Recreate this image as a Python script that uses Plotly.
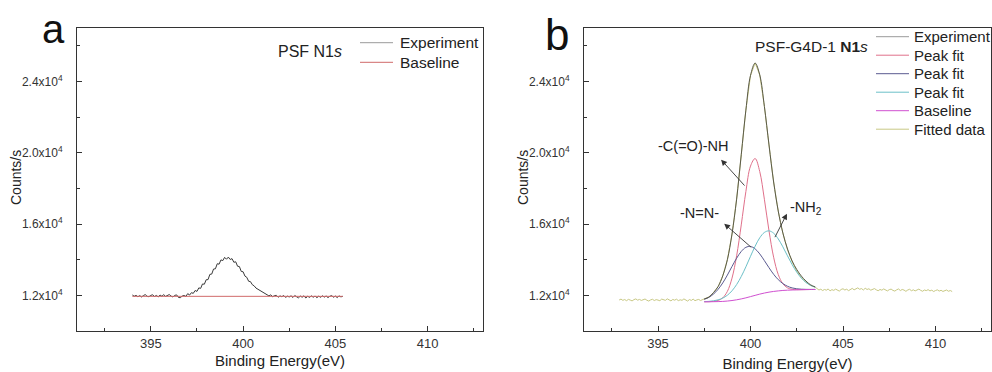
import numpy as np
import plotly.graph_objects as go

# ---------------- data ----------------
# Panel a : PSF N1s  (energy grid 394.0 .. 405.4 eV, step 0.1)
a_start, a_step = 394.0, 0.1
a_experiment = [
    12020, 11950, 12000, 11920, 11985, 11910, 11990, 12040, 11945, 11925,
    12000, 12030, 11935, 11995, 11915, 12015, 11950, 12040, 11940, 12005,
    12045, 11955, 11910, 12000, 12025, 11880, 11870, 11960, 11995, 11940,
    12098, 12017, 12150, 12111, 12273, 12222, 12418, 12392, 12639, 12624,
    12876, 12883, 13176, 13194, 13477, 13490, 13774, 13749, 13990, 13949,
    14132, 14026, 14146, 14012, 14059, 13855, 13884, 13634, 13615, 13342,
    13324, 13081, 13013, 12791, 12769, 12599, 12532, 12408, 12347, 12238,
    12201, 12125, 12077, 12018,
    11970, 12030, 11920, 11985, 12000, 11895, 11970, 11925, 11990, 11885,
    11955, 11910, 11975, 11880, 11990, 11920, 11860, 11960, 11895, 11975,
    11850, 11950, 11885, 11970, 11895, 11960, 11870, 11955, 11890, 11975,
    11900, 11965, 11875, 11950, 11985, 11895, 11960, 11875, 11970, 11915,
    11945,
]
a_baseline_x = [394.0, 405.4]
a_baseline_y = [11945, 11945]

# Panel b : PSF-G4D-1 N1s
b_left_start = 392.9       # noisy data left of the peak, step 0.1
b_left = [
    11740, 11790, 11720, 11765, 11700, 11775, 11735, 11690, 11760, 11800,
    11730, 11770, 11715, 11750, 11795, 11725, 11680, 11745, 11780, 11710,
    11760, 11735, 11700, 11790, 11745, 11720, 11805, 11740, 11690, 11770,
    11730, 11785, 11705, 11750, 11720, 11800, 11740, 11680, 11765, 11715,
    11790, 11700, 11745, 11770, 11710, 11760,
]
b_right_start = 403.6      # noisy data right of the peak, step 0.1
b_right = [
    12380, 12300, 12345, 12270, 12330, 12290, 12360, 12250, 12320, 12280,
    12350, 12295, 12240, 12330, 12370, 12300, 12345, 12265, 12320, 12390,
    12310, 12360, 12420, 12340, 12380, 12300, 12400, 12330, 12370, 12290,
    12345, 12380, 12310, 12260, 12330, 12290, 12360, 12305, 12250, 12320,
    12350, 12280, 12240, 12310, 12360, 12270, 12330, 12295, 12225, 12300,
    12340, 12260, 12310, 12250, 12290, 12350, 12280, 12230, 12300, 12265,
    12320, 12250, 12290, 12215, 12270, 12310, 12240, 12285, 12220, 12265,
    12300, 12230, 12270, 12215,
]
# fit region grid 397.5 .. 403.5 eV, step 0.25
fit_start, fit_step = 397.5, 0.25
b_experiment = [
    11800, 11900, 12160, 12490, 13100, 14000, 15440, 17400, 19890, 22390,
    24340, 25030, 24370, 22600, 20440, 18360, 16730, 15500, 14600, 13930,
    13450, 13080, 12800, 12590, 12470,
]
b_baseline = [
    11640, 11640, 11645, 11650, 11660, 11680, 11710, 11750, 11800, 11860,
    11930, 12000, 12070, 12130, 12180, 12220, 12250, 12275, 12290, 12300,
    12310, 12318, 12324, 12328, 12330,
]
b_peak_amide = [
    11641, 11644, 11662, 11714, 11862, 12224, 12965, 14220, 15953, 17826,
    19252, 19676, 18944, 17390, 15619, 14140, 13166, 12648, 12420, 12339,
    12320, 12320, 12324, 12328, 12330,
]
b_peak_azo = [
    11774, 11888, 12073, 12340, 12698, 13138, 13620, 14085, 14463, 14694,
    14745, 14608, 14325, 13949, 13550, 13182, 12881, 12661, 12510, 12417,
    12368, 12345, 12336, 12333, 12332,
]
b_peak_amine = [
    11650, 11663, 11694, 11748, 11845, 12008, 12256, 12606, 13059, 13600,
    14190, 14757, 15230, 15530, 15619, 15487, 15166, 14720, 14215, 13725,
    13300, 12964, 12721, 12557, 12454,
]
b_envelope = [
    11785, 11915, 12139, 12502, 13085, 14010, 15421, 17411, 19875, 22400,
    24327, 25041, 24359, 22609, 20428, 18369, 16713, 15479, 14565, 13881,
    13368, 12993, 12733, 12562, 12456,
]

x_ticks = [395, 400, 405, 410]
x_tick_text = ["395", "400", "405", "410"]
y_ticks = [12000, 16000, 20000, 24000]
y_tick_text = ["1.2x10<sup>4</sup>", "1.6x10<sup>4</sup>",
               "2.0x10<sup>4</sup>", "2.4x10<sup>4</sup>"]

legend_a = ["Experiment", "Baseline"]
legend_b = ["Experiment", "Peak fit", "Peak fit", "Peak fit", "Baseline", "Fitted data"]

# ---------------- derived grids ----------------
def grid(start, step, n):
    return np.round(start + step * np.arange(n), 3)

a_x = grid(a_start, a_step, len(a_experiment))
fit_x = grid(fit_start, fit_step, len(b_envelope))
bl_x = grid(b_left_start, 0.1, len(b_left))
br_x = grid(b_right_start, 0.1, len(b_right))
b_full_x = np.concatenate([bl_x, fit_x, br_x])
b_full_y = np.concatenate([b_left, b_envelope, b_right])

FONT = "Liberation Sans, Arial, sans-serif"
W, H = 992, 372
TXT = "#222222"

C_EXP_A = "#3a3a3a"
C_BASE_A = "#d06a6a"
C_EXP_B = "#5a5a4a"
C_AMIDE = "#e0708a"
C_AZO = "#5a5a90"
C_AMINE = "#6cc0c8"
C_BASE_B = "#d050d0"
C_FIT = "#c8c884"

fig = go.Figure()
LW = 1.0
# panel a
fig.add_trace(go.Scatter(x=a_x, y=a_experiment, mode="lines", name=legend_a[0],
                         line=dict(color=C_EXP_A, width=LW), xaxis="x", yaxis="y"))
fig.add_trace(go.Scatter(x=a_baseline_x, y=a_baseline_y, mode="lines", name=legend_a[1],
                         line=dict(color=C_BASE_A, width=LW), xaxis="x", yaxis="y"))
# panel b
fig.add_trace(go.Scatter(x=b_full_x, y=b_full_y, mode="lines", name=legend_b[5],
                         line=dict(color=C_FIT, width=LW), xaxis="x2", yaxis="y2"))
b_series = [
    (fit_x, b_peak_amide, legend_b[1], C_AMIDE),
    (fit_x, b_peak_azo, legend_b[2], C_AZO),
    (fit_x, b_peak_amine, legend_b[3], C_AMINE),
    (fit_x, b_baseline, legend_b[4], C_BASE_B),
    (fit_x, b_experiment, legend_b[0], C_EXP_B),
]
for xs, ys, nm, col in b_series:
    fig.add_trace(go.Scatter(x=xs, y=ys, mode="lines", name=nm,
                             line=dict(color=col, width=LW, shape="spline"),
                             xaxis="x2", yaxis="y2"))


def px_x(p):
    return p / W


def px_y(p):
    return 1 - p / H


axis_common = dict(
    range=[391, 413], showline=True, linecolor="#333333", linewidth=1, mirror=True,
    ticks="inside", ticklen=5, tickcolor="#333333", tickwidth=1,
    showgrid=False, zeroline=False,
    tickfont=dict(family=FONT, size=13, color="#333333"),
    minor=dict(ticks="inside", ticklen=3, tickcolor="#333333", dtick=2.5, tick0=392.5,
               showgrid=False),
    tickmode="array", tickvals=x_ticks, ticktext=x_tick_text,
)
xtitle_font = dict(family=FONT, size=15, color=TXT)
yaxis_common = dict(
    range=[10000, 27000], showline=True, linecolor="#333333", linewidth=1, mirror=True,
    ticks="inside", ticklen=5, tickcolor="#333333", tickwidth=1,
    showgrid=False, zeroline=False,
    tickfont=dict(family=FONT, size=12, color="#333333"),
    minor=dict(ticks="inside", ticklen=3, tickcolor="#333333", dtick=2000, tick0=10000,
               showgrid=False),
    tickmode="array", tickvals=y_ticks, ticktext=y_tick_text,
    ticklabelstandoff=11,
)

ya_dom = [px_y(331), px_y(28)]
fig.update_layout(
    width=W, height=H, margin=dict(l=0, r=0, t=0, b=0),
    paper_bgcolor="white", plot_bgcolor="white",
    font=dict(family=FONT, color=TXT),
    showlegend=False,
    xaxis=dict(axis_common, domain=[px_x(77), px_x(483)], anchor="y",
               title=dict(text="Binding Energy(eV)", font=xtitle_font, standoff=5)),
    yaxis=dict(yaxis_common, domain=ya_dom, anchor="x"),
    xaxis2=dict(axis_common, domain=[px_x(584), px_x(991)], anchor="y2",
                title=dict(text="Binding Energy(eV)", font=xtitle_font, standoff=10)),
    yaxis2=dict(yaxis_common, domain=ya_dom, anchor="x2"),
)

ann = []
shapes = []


def paper_text(text, x, y, size, xanchor="center", yanchor="middle", color=TXT, angle=0):
    return dict(text=text, x=px_x(x), y=px_y(y), xref="paper", yref="paper",
                xanchor=xanchor, yanchor=yanchor, showarrow=False, textangle=angle,
                font=dict(family=FONT, size=size, color=color))


# y axis titles
ann.append(paper_text("Counts/s", 16, 178, 14, angle=-90))
ann.append(paper_text("Counts/s", 523, 178, 14, angle=-90))
# panel letters
ann.append(paper_text("a", 53, 29, 40, color="#111111"))
ann.append(paper_text("b", 557, 34, 44, color="#111111"))
# sample titles
ann.append(paper_text("PSF N1<i>s</i>", 310, 52, 16))
ann.append(paper_text("PSF-G4D-1 <b>N1</b><i>s</i>", 811, 46, 15.5))


# hand-placed legends (line sample + label)
def add_legend(names, colors, x0, x1, xt, y0, dy, size):
    for i, (nm, col) in enumerate(zip(names, colors)):
        yy = y0 + i * dy
        shapes.append(dict(type="line", xref="paper", yref="paper",
                           x0=px_x(x0), x1=px_x(x1), y0=px_y(yy), y1=px_y(yy),
                           line=dict(color=col, width=1)))
        ann.append(paper_text(nm, xt, yy, size, xanchor="left"))


add_legend(legend_a, ["#9a9a9a", C_BASE_A], 360, 393, 398, 42.7, 19.6, 15.5)
add_legend(legend_b, ["#9a9a9a", C_AMIDE, C_AZO, C_AMINE, C_BASE_B, C_FIT],
           876, 909, 912, 36.7, 18.5, 15)

# peak labels
lab_font = dict(family=FONT, size=14.5, color=TXT)
for txt, xx, yy in [("-C(=O)-NH", 396.88, 20376), ("-N=N-", 397.24, 16640),
                    ("-NH<sub>2</sub>", 403.0, 16900)]:
    ann.append(dict(text=txt, x=xx, y=yy, xref="x2", yref="y2", xanchor="center",
                    yanchor="middle", showarrow=False, font=lab_font))
# arrows (head near label, tail at peak)
arrow_style = dict(text="", showarrow=True, arrowhead=2, arrowsize=1.3, arrowwidth=0.9,
                   arrowcolor="#333333", xref="x2", yref="y2", axref="x2", ayref="y2")
ann.append(dict(arrow_style, x=398.41, y=19613, ax=399.75, ay=18076))
ann.append(dict(arrow_style, x=398.58, y=16022, ax=400.12, ay=14620))
ann.append(dict(arrow_style, x=401.97, y=16583, ax=401.28, ay=15181))

fig.update_layout(annotations=ann, shapes=shapes)

fig.write_html("out.html")
